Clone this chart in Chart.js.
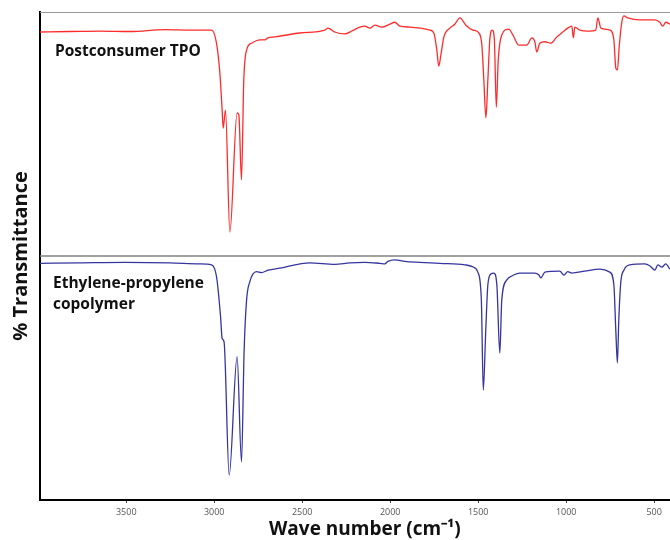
<!DOCTYPE html>
<html lang="en">
<head>
    <meta charset="UTF-8">
    <title>FTIR spectra</title>
    <script src="https://cdn.jsdelivr.net/npm/chart.js"></script>
    <style>
        body { margin: 0; background: #fff; }
    </style>
</head>
<body>
    <canvas id="irChart" width="670" height="540"></canvas>
    <script>
        // wave numbers (cm-1) and offset % transmittance
        const tpoWave = [3991, 3820, 3650, 3479, 3280, 3138, 3015, 2987, 2968, 2955, 2949, 2936, 2911, 2870, 2860, 2845, 2832, 2816, 2788, 2741, 2712, 2695, 2655, 2513, 2371, 2354, 2332,
            2315, 2258, 2218, 2172, 2144, 2116, 2087, 2048, 2002, 1974, 1945, 1888, 1832, 1775, 1752, 1735, 1724, 1712, 1695, 1661, 1633, 1604, 1570, 1530, 1496, 1479, 1468, 1456, 1445, 1434, 1420, 1408, 1397, 1386, 1366, 1326, 1303, 1269, 1224, 1195, 1178, 1167, 1150, 1121, 1087, 1053, 1019, 991, 968, 959, 951, 922, 866, 832, 820, 803, 752, 729, 718, 709, 698, 684, 672, 650, 582, 496, 468, 451, 434, 411];
        const tpoT = [95.9, 96.0, 96.1, 96.0, 96.4, 96.3, 96.3, 93.6, 87.5, 79.9, 76.2, 79.9, 54.9, 79.3, 78.9, 65.6, 86.1, 92.2, 93.6, 94.3, 94.3, 94.7, 94.9, 95.7, 96.3, 96.7, 96.3,
            95.9, 95.5, 96.1, 96.9, 97.1, 96.7, 97.3, 96.9, 97.5, 97.9, 97.1, 96.9, 96.7, 96.3, 95.7, 92.2, 88.9, 91.2, 94.9, 96.7, 97.5, 98.8, 97.3, 96.3, 95.7, 93.2, 86.1, 78.3, 86.1, 94.3, 96.3, 94.3, 80.5, 90.2, 95.3, 96.5, 95.3, 93.2, 93.2, 94.7, 93.9, 91.8, 93.6, 93.9, 93.6, 94.9, 95.9, 96.7, 97.1, 94.7, 96.9, 96.3, 96.1, 96.3, 98.8, 96.7, 96.3, 94.3, 88.5, 88.1, 93.2, 97.9, 99.2, 98.8, 98.4, 98.4, 97.9, 97.1, 97.9, 97.5];

        const epWave = [3991, 3763, 3508, 3252, 3082, 3015, 2987, 2964, 2955, 2944, 2915, 2870, 2845, 2830, 2816, 2798, 2760, 2731, 2694, 2627, 2457, 2315,
            2229, 2144, 2059, 2030, 2013, 1974, 1917, 1832, 1718, 1576, 1525, 1502, 1482, 1471, 1457, 1445, 1428, 1411, 1394, 1377, 1366, 1337, 1309, 1263, 1178, 1155, 1144, 1121, 1036, 1013, 991, 968, 894, 809, 752, 729, 718, 709, 701, 690, 672, 638, 553, 525, 496, 479, 456, 434, 411];
        const epT = [48.5, 48.6, 48.7, 48.6, 48.4, 48.2, 45.8, 37.6, 33.1, 32.4, 5.1, 29.4, 7.8, 30.7, 41.0, 44.7, 46.8, 46.6, 47.1, 47.5, 48.6, 48.3,
            48.6, 48.7, 48.5, 48.4, 48.9, 49.2, 48.9, 48.7, 48.5, 48.2, 47.7, 46.7, 41.0, 22.5, 34.8, 44.1, 46.3, 46.5, 44.1, 30.1, 41.0, 45.1, 45.9, 46.5, 46.5, 46.1, 45.5, 46.7, 46.9, 46.1, 46.8, 46.5, 46.9, 47.3, 46.7, 44.1, 34.8, 28.1, 36.9, 44.5, 47.1, 48.2, 48.4, 48.0, 47.1, 48.2, 47.7, 48.4, 47.3];

        const waveTicks = [3500, 3000, 2500, 2000, 1500, 1000, 500];
        const waveMin = 410, waveMax = 3990;
        const panelTop = 100, panelSplit = 50;

        function toPoints(xs, ys) {
            return xs.map((x, i) => ({x: x, y: ys[i]}));
        }

        const panelLabels = {
            id: 'panelLabels',
            afterDatasetsDraw(chart) {
                const ctx = chart.ctx;
                const area = chart.chartArea;
                ctx.save();
                ctx.fillStyle = '#111';
                ctx.font = "bold 15.5px 'Open Sans', sans-serif";
                ctx.textBaseline = 'alphabetic';
                ctx.fillText('Postconsumer TPO', area.left + 15, 56);
                ctx.fillText('Ethylene-propylene', area.left + 13, 288);
                ctx.fillText('copolymer', area.left + 13, 309);
                ctx.restore();
            }
        };

        Chart.defaults.font.family = "'Open Sans', sans-serif";

        new Chart(document.getElementById('irChart'), {
            type: 'line',
            data: {
                datasets: [
                    {
                        data: toPoints([waveMax, waveMin], [panelTop, panelTop]),
                        borderColor: '#9a9a9a',
                        borderWidth: 2
                    },
                    {
                        data: toPoints([waveMax, waveMin], [panelSplit, panelSplit]),
                        borderColor: '#808080',
                        borderWidth: 1.5
                    },
                    {
                        label: 'Postconsumer TPO',
                        data: toPoints(tpoWave, tpoT),
                        borderColor: '#ff2b2b',
                        borderWidth: 1.3,
                        cubicInterpolationMode: 'monotone'
                    },
                    {
                        label: 'Ethylene-propylene copolymer',
                        data: toPoints(epWave, epT),
                        borderColor: '#35359f',
                        borderWidth: 1.3,
                        cubicInterpolationMode: 'monotone'
                    }
                ]
            },
            options: {
                responsive: false,
                animation: false,
                elements: { point: { radius: 0 } },
                layout: { padding: { left: 0, right: 0, top: 12, bottom: 0 } },
                plugins: {
                    legend: { display: false },
                    tooltip: { enabled: false }
                },
                scales: {
                    x: {
                        type: 'linear',
                        reverse: true,
                        min: waveMin,
                        max: waveMax,
                        grid: { display: true, drawOnChartArea: false, drawTicks: true, tickLength: 3, color: '#444', lineWidth: 1 },
                        border: { display: true, color: '#000', width: 2 },
                        afterBuildTicks: axis => { axis.ticks = waveTicks.map(v => ({value: v})); },
                        afterFit: axis => { axis.height = 40; },
                        ticks: {
                            color: '#555',
                            font: { size: 9 },
                            padding: 3.6,
                            maxRotation: 0,
                            callback: v => String(v)
                        },
                        title: {
                            display: true,
                            text: '    Wave number (cm⁻¹)',
                            color: '#111',
                            font: { size: 19, weight: 'bold', lineHeight: 1 },
                            padding: { top: 0, bottom: 0.5 }
                        }
                    },
                    y: {
                        min: 0,
                        max: 100,
                        grid: { display: false, drawTicks: false },
                        border: { display: true, color: '#000', width: 2 },
                        ticks: { display: false },
                        title: {
                            display: true,
                            text: '% Transmittance',
                            color: '#111',
                            font: { size: 20, weight: 'bold', lineHeight: 1.2 },
                            padding: { top: 9, bottom: 7 }
                        }
                    }
                }
            },
            plugins: [panelLabels]
        });
    </script>
</body>
</html>
